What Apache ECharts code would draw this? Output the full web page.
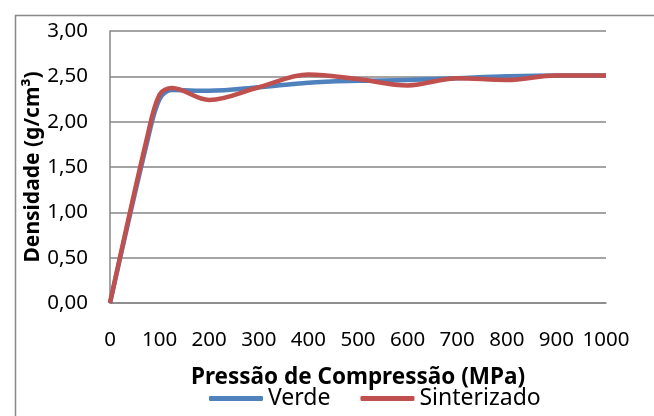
<!DOCTYPE html>
<html>
<head>
<meta charset="utf-8">
<script src="https://cdn.jsdelivr.net/npm/echarts@6/dist/echarts.min.js"></script>
<style>
html,body{margin:0;padding:0;background:#fff;}
#chart{width:654px;height:416px;}
</style>
</head>
<body>
<div id="chart"></div>
<script>
const pressures = [0, 75, 100, 125, 200, 300, 400, 500, 600, 700, 800, 900, 1000];
const verde = [0, 1.78, 2.25, 2.35, 2.34, 2.38, 2.43, 2.45, 2.46, 2.48, 2.50, 2.51, 2.51];
const sinterizado = [0, 1.83, 2.30, 2.37, 2.24, 2.38, 2.52, 2.47, 2.40, 2.48, 2.46, 2.51, 2.51];
const seriesNames = ['Verde', 'Sinterizado'];
const xTitle = 'Pressão de Compressão (MPa)';
const yTitle = 'Densidade (g/cm³)';

const font = 'Noto Sans';
const chart = echarts.init(document.getElementById('chart'), null, {renderer: 'canvas'});
const pair = (xs, ys) => xs.map((x, i) => [x, ys[i]]);
chart.setOption({
  animation: false,
  backgroundColor: '#fff',
  graphic: [{
    type: 'rect', left: 13, top: 13, silent: true,
    shape: {width: 700, height: 500},
    style: {fill: 'none', stroke: '#888', lineWidth: 1.5}
  }],
  grid: {left: 110, right: 48, top: 31, bottom: 113, containLabel: false},
  legend: {
    data: seriesNames, left: 204, top: 382, itemWidth: 54, itemHeight: 5,
    itemGap: 30, icon: 'roundRect',
    textStyle: {fontFamily: font, fontSize: 23, color: '#000'}
  },
  xAxis: {
    type: 'value', min: 0, max: 1000, interval: 100,
    name: xTitle, nameLocation: 'middle', nameGap: 63, nameMoveOverlap: false,
    nameTextStyle: {fontFamily: font, fontSize: 22.5, fontWeight: 'bold', color: '#000'},
    axisLine: {show: true, lineStyle: {color: '#868686', width: 1.5}},
    axisTick: {show: false},
    splitLine: {show: false},
    axisLabel: {margin: 27, fontFamily: font, fontSize: 20.5, color: '#000',
      formatter: v => String(v)}
  },
  yAxis: {
    type: 'value', min: 0, max: 3, interval: 0.5,
    name: yTitle, nameLocation: 'middle', nameGap: 66, nameMoveOverlap: false,
    nameTextStyle: {fontFamily: font, fontSize: 21, fontWeight: 'bold', color: '#000'},
    axisLine: {show: true, lineStyle: {color: '#868686', width: 1.5}},
    axisTick: {show: false},
    splitLine: {show: true, lineStyle: {color: '#868686', width: 1.5}},
    axisLabel: {margin: 22, fontFamily: font, fontSize: 20.5, color: '#000',
      formatter: v => v.toFixed(2).replace('.', ',')}
  },
  series: [
    {name: seriesNames[0], type: 'line', data: pair(pressures, verde), smooth: 0.35,
     symbol: 'none', lineStyle: {color: '#4F81BD', width: 4.5}, itemStyle: {color: '#4F81BD'}},
    {name: seriesNames[1], type: 'line', data: pair(pressures, sinterizado), smooth: 0.35,
     symbol: 'none', lineStyle: {color: '#C0504D', width: 4.5}, itemStyle: {color: '#C0504D'}}
  ]
});
</script>
</body>
</html>
